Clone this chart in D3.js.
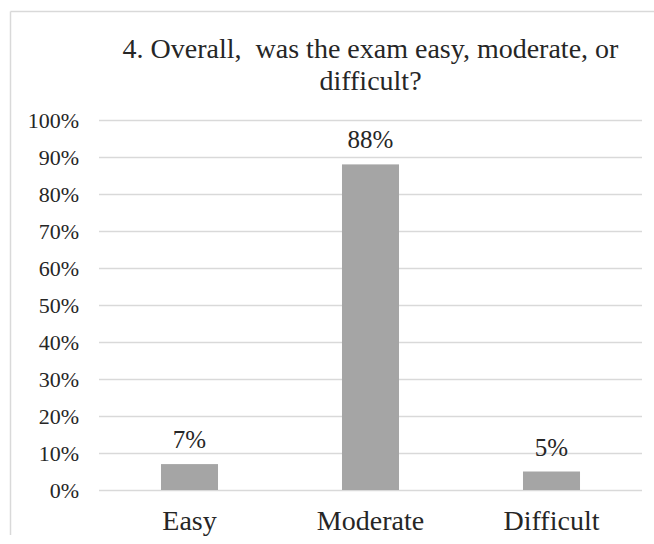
<!DOCTYPE html>
<html>
<head>
<meta charset="utf-8">
<script src="https://cdn.jsdelivr.net/npm/d3@7"></script>
<style>
    body { margin: 0; background: #fff; }
</style>
</head>
<body>
<svg id="chart" width="654" height="544"></svg>
<script>
// Chart data
const categories = ["Easy", "Moderate", "Difficult"];
const values = [0.07, 0.88, 0.05];
const valueLabels = ["7%", "88%", "5%"];
const yTicks = [0, 0.1, 0.2, 0.3, 0.4, 0.5, 0.6, 0.7, 0.8, 0.9, 1.0];
const titleLines = ["4. Overall,  was the exam easy, moderate, or", "difficult?"];

const serif = "'Liberation Serif'";

const svg = d3.select('#chart');
const width = 654;
const height = 544;
const margin = {top: 120, right: 12, bottom: 54, left: 99};

// Chart area frame (only top and left edges are visible)
svg.append('line')
    .attr('x1', 10.5).attr('x2', width)
    .attr('y1', 11.5).attr('y2', 11.5)
    .attr('stroke', '#d9d9d9').attr('stroke-width', 1.5);
svg.append('line')
    .attr('x1', 10.5).attr('x2', 10.5)
    .attr('y1', 11.5).attr('y2', 535)
    .attr('stroke', '#d9d9d9').attr('stroke-width', 1.5);

const x = d3.scaleBand()
    .domain(categories)
    .range([margin.left, width - margin.right])
    .paddingInner(0.685)
    .paddingOuter(0.3425);

const y = d3.scaleLinear()
    .domain([0, 1])
    .range([height - margin.bottom, margin.top]);

// Y axis with gridlines
const yAxis = d3.axisLeft(y)
    .tickValues(yTicks)
    .tickFormat(d3.format('.0%'))
    .tickSize(-(width - margin.left - margin.right))
    .tickPadding(20);

const gy = svg.append('g')
    .attr('transform', `translate(${margin.left},0)`)
    .call(yAxis)
    .attr('font-family', serif)
    .attr('font-size', 22);
gy.select('.domain').remove();
gy.selectAll('.tick line')
    .attr('stroke', '#d9d9d9')
    .attr('stroke-width', 1.5);
gy.selectAll('.tick text')
    .attr('fill', '#262626');

// Bars
svg.append('g')
    .selectAll('rect')
    .data(values)
    .join('rect')
    .attr('x', (d, i) => x(categories[i]))
    .attr('y', d => y(d))
    .attr('width', x.bandwidth())
    .attr('height', d => y(0) - y(d))
    .attr('fill', '#a5a5a5');

// Value labels
svg.append('g')
    .attr('font-family', serif)
    .attr('font-size', 25)
    .selectAll('text')
    .data(values)
    .join('text')
    .attr('x', (d, i) => x(categories[i]) + x.bandwidth() / 2)
    .attr('y', d => y(d) - 16)
    .attr('text-anchor', 'middle')
    .attr('fill', '#262626')
    .text((d, i) => valueLabels[i]);

// X axis labels
const xAxis = d3.axisBottom(x).tickSize(0).tickPadding(20);
const gx = svg.append('g')
    .attr('transform', `translate(0,${height - margin.bottom})`)
    .call(xAxis)
    .attr('font-family', serif)
    .attr('font-size', 28);
gx.select('.domain').remove();
gx.selectAll('.tick text')
    .attr('fill', '#262626');

// Title, centred over the plot area
svg.append('text')
    .attr('text-anchor', 'middle')
    .attr('fill', '#262626')
    .attr('font-family', serif)
    .attr('font-size', 28)
    .style('white-space', 'pre')
    .selectAll('tspan')
    .data(titleLines)
    .join('tspan')
    .attr('x', (margin.left + width - margin.right) / 2)
    .attr('y', (d, i) => 58 + i * 32)
    .text(d => d);
</script>
</body>
</html>
